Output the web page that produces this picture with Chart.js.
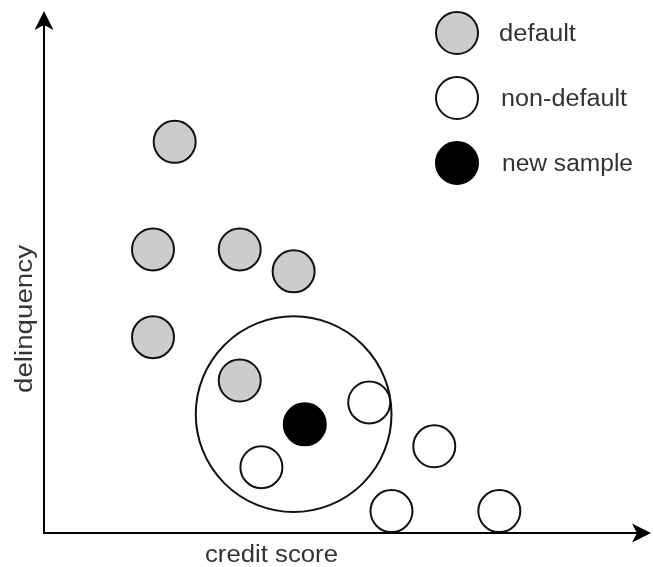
<!DOCTYPE html>
<html>
<head>
<meta charset="utf-8">
<script src="https://cdn.jsdelivr.net/npm/chart.js@4/dist/chart.umd.min.js"></script>
<style>
  html, body { margin: 0; padding: 0; background: #fff; }
  #wrap { width: 653px; height: 567px; }
</style>
</head>
<body>
<div id="wrap"><canvas id="knnChart" width="653" height="567"></canvas></div>
<script>
// values (x = credit score, y = delinquency, both 0..100)
const defaultX = [22.3, 18.6, 33.4, 42.6, 18.6, 33.4];
const defaultY = [76.7, 55.6, 55.6, 51.3, 38.4, 29.9];
const nonDefaultX = [55.5, 37.1, 66.6, 59.3, 77.7];
const nonDefaultY = [25.6, 12.9, 17.0, 4.3, 4.3];
const newSampleX = [44.5];
const newSampleY = [21.3];
// neighbourhood circle round the new sample (radius in credit score units)
const neighbourX = [42.6];
const neighbourY = [23.3];
const neighbourR = [16.7];
const legendLabels = ['default', 'non-default', 'new sample'];
const axisTitles = ['credit score', 'delinquency'];

const toPoints = (xs, ys) => xs.map((x, i) => ({ x: x, y: ys[i] }));

const textColor = '#333';
const fontFamily = '"Liberation Sans", Arial, sans-serif';

// text in the reference is drawn a bit wider than the font, so fit it to width
function stretchedText(ctx, text, x, y, width, align) {
  ctx.save();
  const w = ctx.measureText(text).width;
  const k = width / w;
  ctx.translate(x, y);
  ctx.scale(k, 1);
  ctx.textAlign = align;
  ctx.fillText(text, 0, 0);
  ctx.restore();
}

function arrowHead(ctx, x, y, angle) {
  ctx.save();
  ctx.translate(x, y);
  ctx.rotate(angle);
  ctx.beginPath();
  ctx.moveTo(0, 0);
  ctx.lineTo(-19, -9.5);
  ctx.lineTo(-14, 0);
  ctx.lineTo(-19, 9.5);
  ctx.closePath();
  ctx.fillStyle = '#000';
  ctx.fill();
  ctx.restore();
}

const neighbourCircle = {
  id: 'neighbourCircle',
  beforeDatasetsDraw(chart) {
    const { ctx, scales: { x, y } } = chart;
    ctx.save();
    ctx.strokeStyle = '#111';
    ctx.lineWidth = 2;
    neighbourX.forEach((v, i) => {
      const cx = x.getPixelForValue(v);
      const cy = y.getPixelForValue(neighbourY[i]);
      const r = x.getPixelForValue(v + neighbourR[i]) - cx;
      ctx.beginPath();
      ctx.arc(cx, cy, r, 0, Math.PI * 2);
      ctx.stroke();
    });
    ctx.restore();
  }
};

// arrow axes + axis titles
const arrowAxes = {
  id: 'arrowAxes',
  afterDraw(chart) {
    const { ctx, chartArea: a } = chart;
    const topTip = a.top - 12;
    const rightTip = a.right + 21;
    ctx.save();
    ctx.strokeStyle = '#000';
    ctx.lineWidth = 2;
    ctx.beginPath();
    ctx.moveTo(a.left, topTip + 14);
    ctx.lineTo(a.left, a.bottom);
    ctx.lineTo(rightTip - 14, a.bottom);
    ctx.stroke();
    arrowHead(ctx, a.left, topTip, -Math.PI / 2);
    arrowHead(ctx, rightTip, a.bottom, 0);

    ctx.fillStyle = textColor;
    ctx.font = '23px ' + fontFamily;
    ctx.textBaseline = 'alphabetic';
    stretchedText(ctx, axisTitles[0], 271.5, a.bottom + 29, 133, 'center');
    ctx.translate(32, 319);
    ctx.rotate(-Math.PI / 2);
    stretchedText(ctx, axisTitles[1], 0, 0, 148, 'center');
    ctx.restore();
  }
};

// legend in the top right corner
const markerLegend = {
  id: 'markerLegend',
  afterDraw(chart) {
    const { ctx } = chart;
    const labelWidths = [77, 126, 131];
    const labelX = [499, 501, 502];
    ctx.save();
    ctx.font = '23px ' + fontFamily;
    ctx.textBaseline = 'alphabetic';
    legendLabels.forEach((label, i) => {
      const ds = chart.data.datasets[i];
      const y = 33 + i * 65;
      ctx.beginPath();
      ctx.arc(457, y, 21, 0, Math.PI * 2);
      ctx.fillStyle = ds.backgroundColor;
      ctx.fill();
      ctx.lineWidth = ds.borderWidth;
      ctx.strokeStyle = ds.borderColor;
      ctx.stroke();
      ctx.fillStyle = textColor;
      stretchedText(ctx, label, labelX[i], y + 8, labelWidths[i], 'left');
    });
    ctx.restore();
  }
};

const ctx = document.getElementById('knnChart').getContext('2d');
const knnChart = new Chart(ctx, {
  type: 'scatter',
  data: {
    datasets: [{
      label: legendLabels[0],
      data: toPoints(defaultX, defaultY),
      backgroundColor: '#cccccc',
      borderColor: '#111',
      borderWidth: 2,
      pointRadius: 21
    }, {
      label: legendLabels[1],
      data: toPoints(nonDefaultX, nonDefaultY),
      backgroundColor: '#ffffff',
      borderColor: '#111',
      borderWidth: 2,
      pointRadius: 21
    }, {
      label: legendLabels[2],
      data: toPoints(newSampleX, newSampleY),
      backgroundColor: '#000000',
      borderColor: '#000000',
      borderWidth: 2,
      pointRadius: 21
    }]
  },
  options: {
    responsive: false,
    animation: false,
    events: [],
    layout: { padding: { left: 44, right: 22, top: 22, bottom: 34 } },
    scales: {
      x: { type: 'linear', min: 0, max: 100, display: false },
      y: { type: 'linear', min: 0, max: 100, display: false }
    },
    datasets: { scatter: { clip: false } },
    plugins: {
      legend: { display: false },
      tooltip: { enabled: false }
    }
  },
  plugins: [neighbourCircle, arrowAxes, markerLegend]
});
</script>
</body>
</html>
